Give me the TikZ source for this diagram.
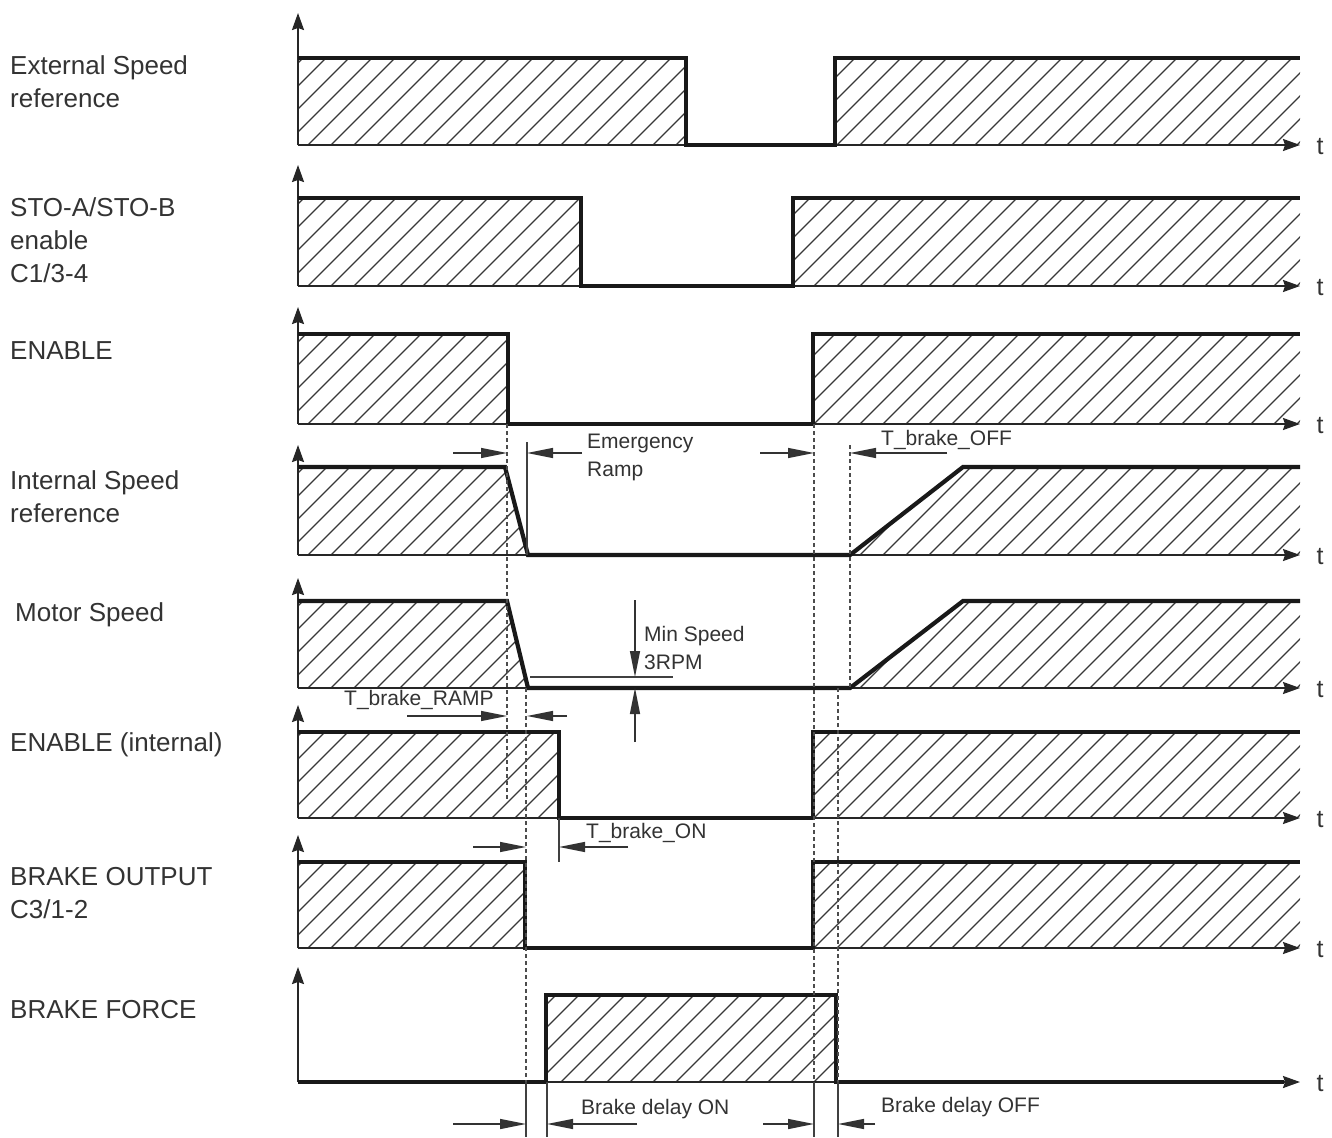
\documentclass[tikz,border=0pt]{standalone}
\usepackage{fontspec}
\setmainfont{Liberation Sans}
\usetikzlibrary{arrows.meta}
\newcommand\hatchfill[2]{%
  \begin{scope}
    \clip #1;
    \foreach \hx in {190,213,...,1310}{\draw[hatchline] (\hx,#2+3) -- ++(110,-110);}
  \end{scope}}
\begin{document}
\begin{tikzpicture}[x=1pt,y=-1pt,
  sig/.style={line width=4.2pt, line join=miter, black!90},
  axisline/.style={line width=1.8pt, black!85, -{Stealth[length=17pt,width=12pt,inset=2pt]}},
  hatchline/.style={line width=1.3pt, black!78},
  dimline/.style={line width=1.3pt, black!80, -{Triangle[length=26pt,width=10pt]}},
  guide/.style={line width=1.2pt, black!70, dash pattern=on 4pt off 3pt},
  tickline/.style={line width=1.2pt, black!75},
  biglabel/.style={anchor=west, inner sep=0pt, font=\fontsize{26}{33}\selectfont, text=black!80, align=left},
  smalllabel/.style={anchor=west, inner sep=0pt, font=\fontsize{21}{28}\selectfont, text=black!80, align=left},
  tlabel/.style={inner sep=0pt, font=\fontsize{25}{28}\selectfont, text=black!80}]
\useasboundingbox[fill=white] (0,0) rectangle (1332,1137);

% ---------- Row 1: External Speed reference ----------
\hatchfill{(298,58) rectangle (686,145) (835,58) rectangle (1300,145)}{145}
\draw[axisline] (298,145) -- (298,13);
\draw[axisline] (298,145) -- (1300,145);
\draw[sig] (298,58) -- (686,58) -- (686,145) -- (835,145) -- (835,58) -- (1300,58);
\node[tlabel] (t1) at (1320,147) {t};
\node[biglabel] (l1) at (10,82) {External Speed\\reference};

% ---------- Row 2: STO ----------
\hatchfill{(298,198) rectangle (581,286) (793,198) rectangle (1300,286)}{286}
\draw[axisline] (298,286) -- (298,165);
\draw[axisline] (298,286) -- (1300,286);
\draw[sig] (298,198) -- (581,198) -- (581,286) -- (793,286) -- (793,198) -- (1300,198);
\node[tlabel] (t2) at (1320,288) {t};
\node[biglabel] (l2) at (10,240) {STO-A/STO-B\\enable\\C1/3-4};

% ---------- Row 3: ENABLE ----------
\hatchfill{(298,334) rectangle (508,424) (813,334) rectangle (1300,424)}{424}
\draw[axisline] (298,424) -- (298,307);
\draw[axisline] (298,424) -- (1300,424);
\draw[sig] (298,334) -- (508,334) -- (508,424) -- (813,424) -- (813,334) -- (1300,334);
\node[tlabel] (t3) at (1320,426) {t};
\node[biglabel] (l3) at (10,351) {ENABLE};

% ---------- Row 4: Internal Speed reference ----------
\hatchfill{(298,555) -- (298,467) -- (505,467) -- (528,555) -- cycle (850,555) -- (963,467) -- (1300,467) -- (1300,555) -- cycle}{555}
\draw[axisline] (298,555) -- (298,445);
\draw[axisline] (298,555) -- (1300,555);
\draw[sig] (298,467) -- (505,467) -- (528,555) -- (850,555) -- (963,467) -- (1300,467);
\node[tlabel] (t4) at (1320,557) {t};
\node[biglabel] (l4) at (10,497) {Internal Speed\\reference};

% ---------- Row 5: Motor Speed ----------
\hatchfill{(298,688) -- (298,601) -- (507,601) -- (528,688) -- cycle (850,688) -- (963,601) -- (1300,601) -- (1300,688) -- cycle}{688}
\draw[axisline] (298,688) -- (298,578);
\draw[axisline] (298,688) -- (1300,688);
\draw[sig] (298,601) -- (507,601) -- (528,688) -- (850,688) -- (963,601) -- (1300,601);
\node[tlabel] (t5) at (1320,690) {t};
\node[biglabel] (l5) at (15,615) {Motor Speed};

% ---------- Row 6: ENABLE (internal) ----------
\hatchfill{(298,732) rectangle (559,818) (813,732) rectangle (1300,818)}{818}
\draw[axisline] (298,818) -- (298,705);
\draw[axisline] (298,818) -- (1300,818);
\draw[sig] (298,732) -- (559,732) -- (559,818) -- (813,818) -- (813,732) -- (1300,732);
\node[tlabel] (t6) at (1320,820) {t};
\node[biglabel] (l6) at (10,745) {ENABLE (internal)};

% ---------- Row 7: BRAKE OUTPUT ----------
\hatchfill{(298,862) rectangle (525,948) (813,862) rectangle (1300,948)}{948}
\draw[axisline] (298,948) -- (298,835);
\draw[axisline] (298,948) -- (1300,948);
\draw[sig] (298,862) -- (525,862) -- (525,948) -- (813,948) -- (813,862) -- (1300,862);
\node[tlabel] (t7) at (1320,950) {t};
\node[biglabel] (l7) at (10,893) {BRAKE OUTPUT\\C3/1-2};

% ---------- Row 8: BRAKE FORCE ----------
\hatchfill{(546,995) rectangle (836,1082)}{1082}
\draw[axisline] (298,1082) -- (298,967);
\draw[axisline] (298,1082) -- (1300,1082);
\draw[sig] (298,1082) -- (546,1082) -- (546,995) -- (836,995) -- (836,1082) -- (1284,1082);
\node[tlabel] (t8) at (1320,1084) {t};
\node[biglabel] (l8) at (10,1010) {BRAKE FORCE};

% ---------- guide lines ----------
\draw[guide] (507,424) -- (507,800);
\draw[guide] (526,688) -- (526,1082);
\draw[tickline] (526,1082) -- (526,1137);
\draw[guide] (814,424) -- (814,1082);
\draw[tickline] (814,1082) -- (814,1137);
\draw[guide] (850,445) -- (850,688);
\draw[guide] (838,688) -- (838,1082);
\draw[tickline] (838,1082) -- (838,1137);
\draw[tickline] (527,442) -- (527,555);
\draw[tickline] (559,818) -- (559,862);
\draw[tickline] (547,1082) -- (547,1137);

% ---------- Emergency Ramp ----------
\coordinate (er1) at (453,453); \coordinate (er2) at (507,453);
\coordinate (er3) at (582,453); \coordinate (er4) at (527,453);
\draw[dimline] (er1) -- (er2);
\draw[dimline] (er3) -- (er4);
\node[smalllabel] (er) at (587,457) {Emergency\\Ramp};

% ---------- T_brake_OFF ----------
\coordinate (bo1) at (760,453); \coordinate (bo2) at (814,453);
\coordinate (bo3) at (947,453); \coordinate (bo4) at (850,453);
\draw[dimline] (bo1) -- (bo2);
\draw[dimline] (bo3) -- (bo4);
\node[smalllabel] (tbo) at (881,440) {T\_brake\_OFF};

% ---------- Min Speed ----------
\draw[tickline] (530,677) -- (673,677);
\coordinate (ms1) at (635,600); \coordinate (ms2) at (635,677);
\coordinate (ms3) at (635,742); \coordinate (ms4) at (635,688);
\draw[dimline] (ms1) -- (ms2);
\draw[dimline] (ms3) -- (ms4);
\node[smalllabel] (ms) at (644,648) {Min Speed\\3RPM};

% ---------- T_brake_RAMP ----------
\coordinate (br1) at (407,716); \coordinate (br2) at (507,716);
\coordinate (br3) at (567,716); \coordinate (br4) at (527,716);
\draw[dimline] (br1) -- (br2);
\draw[dimline] (br3) -- (br4);
\node[smalllabel] (tbr) at (344,700) {T\_brake\_RAMP};

% ---------- T_brake_ON ----------
\coordinate (bn1) at (473,847); \coordinate (bn2) at (526,847);
\coordinate (bn3) at (628,847); \coordinate (bn4) at (559,847);
\draw[dimline] (bn1) -- (bn2);
\draw[dimline] (bn3) -- (bn4);
\node[smalllabel] (tbn) at (586,833) {T\_brake\_ON};

% ---------- Brake delay ----------
\coordinate (d1) at (453,1124); \coordinate (d2) at (526,1124);
\coordinate (d3) at (637,1124); \coordinate (d4) at (547,1124);
\draw[dimline] (d1) -- (d2);
\draw[dimline] (d3) -- (d4);
\node[smalllabel] (bdon) at (581,1109) {Brake delay ON};
\coordinate (e1) at (763,1124); \coordinate (e2) at (814,1124);
\coordinate (e3) at (875,1124); \coordinate (e4) at (838,1124);
\draw[dimline] (e1) -- (e2);
\draw[dimline] (e3) -- (e4);
\node[smalllabel] (bdoff) at (881,1107) {Brake delay OFF};
\end{tikzpicture}
\end{document}
